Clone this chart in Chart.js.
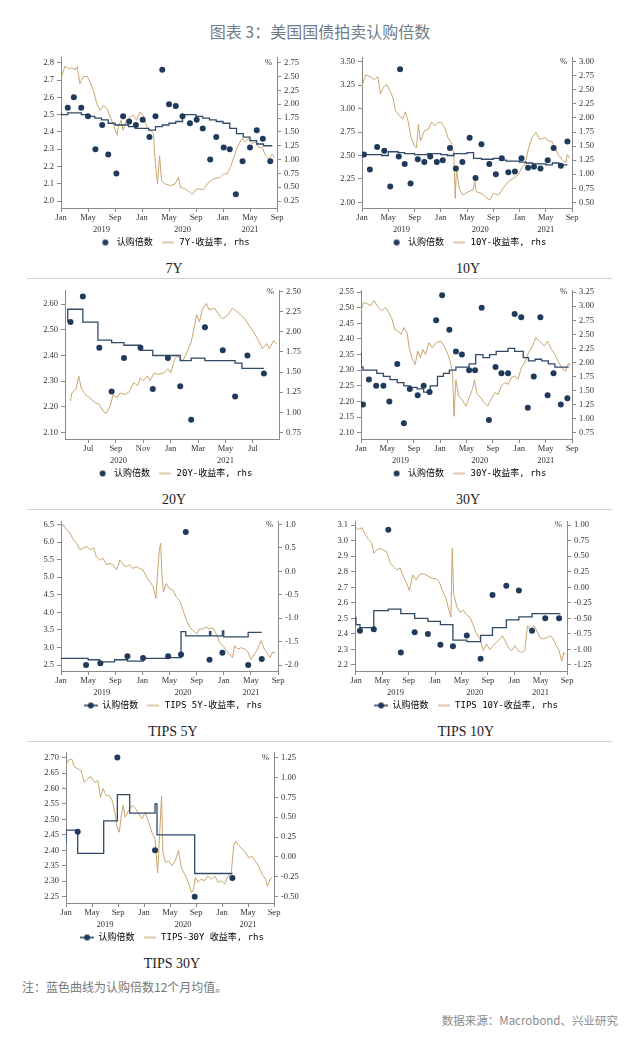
<!DOCTYPE html>
<html lang="zh">
<head>
<meta charset="utf-8">
<title>美国国债拍卖认购倍数</title>
<script src="https://cdn.jsdelivr.net/npm/chart.js@4.4.1/dist/chart.umd.min.js"></script>
<style>
  body { margin: 0; background: #fff; }
  #page { position: relative; width: 640px; height: 1037px; overflow: hidden; font-family: "Noto Sans CJK SC", sans-serif; }
  .hdr { position: absolute; left: 0; top: 20px; width: 640px; text-align: center; font-size: 16px; line-height: 22px; color: #6e7c88; }
  canvas.pn { position: absolute; }
  .name { position: absolute; width: 120px; text-align: center; font-family: "Liberation Serif", serif; font-size: 14px; line-height: 16px; color: #222; }
  .sep { position: absolute; height: 1px; background: #d2d2d2; }
  .note { position: absolute; left: 22px; top: 979px; font-size: 12px; line-height: 16px; color: #777; }
  .src { position: absolute; right: 22px; top: 1012px; font-size: 11.5px; line-height: 16px; color: #8a8a8a; }
</style>
</head>
<body>
<div id="page">
  <div class="hdr">图表 3：美国国债拍卖认购倍数</div>
  <div class="note">注：蓝色曲线为认购倍数12个月均值。</div>
  <div class="src">数据来源：Macrobond、兴业研究</div>
</div>
<script>
// 美国国债拍卖认购倍数 — x values are months since Jan 2019 (20Y: since Jan 2020)

const NAVY = '#1f3a5a';
const AVG_COL = '#2e4a68';
const GOLD = '#c9a56e';
const AXIS = '#8a8a8a';
const TXT = '#333';
const TICK_FONT = { family: "'Liberation Serif', 'DejaVu Serif', serif", size: 8.5 };
const LEG_FONT = "'DejaVu Sans Mono', 'Noto Sans CJK SC', monospace";

const MONTHS = ['Jan', 'Feb', 'Mar', 'Apr', 'May', 'Jun', 'Jul', 'Aug', 'Sep', 'Oct', 'Nov', 'Dec'];
const X_TICKS = [0, 4, 8, 12, 16, 20, 24, 28, 32];
const X_TICKS_20 = [6, 8, 10, 12, 14, 16, 18];
const YEARS = [[6, '2019'], [18, '2020'], [28, '2021']];
const YEARS_20 = [[8.2, '2020'], [16, '2021']];

// ---- 7Y ----
const T7_L = [2.0, 2.1, 2.2, 2.3, 2.4, 2.5, 2.6, 2.7, 2.8];
const T7_R = [0.25, 0.5, 0.75, 1.0, 1.25, 1.5, 1.75, 2.0, 2.25, 2.5, 2.75];
const BID_7Y = [[1.0, 2.54], [1.9, 2.60], [3.0, 2.54], [4.0, 2.49], [5.1, 2.30], [6.1, 2.44], [7.0, 2.27], [8.2, 2.16], [9.2, 2.49], [10.1, 2.46], [11.1, 2.44], [12.1, 2.47], [13.1, 2.37], [14.0, 2.49], [15.0, 2.76], [16.0, 2.56], [17.0, 2.55], [18.0, 2.49], [19.1, 2.45], [20.1, 2.47], [21.0, 2.42], [22.1, 2.24], [23.0, 2.37], [24.1, 2.31], [25.0, 2.30], [25.9, 2.04], [26.9, 2.23], [28.0, 2.31], [29.0, 2.41], [29.9, 2.36], [31.0, 2.23]];
const AVG_7Y = [[0, 2.52], [1, 2.50], [3, 2.51], [4, 2.50], [5, 2.49], [6, 2.48], [7, 2.47], [8, 2.45], [10, 2.44], [11, 2.43], [13, 2.42], [14, 2.41], [15, 2.43], [16, 2.44], [17, 2.45], [18, 2.46], [20, 2.50], [21, 2.49], [22, 2.48], [23, 2.47], [24, 2.46], [25, 2.45], [26, 2.42], [27, 2.39], [28, 2.37], [29, 2.35], [30, 2.33], [31, 2.32], [31.3, 2.32]];
const YLD_7Y = [[0, 2.47], [0.6, 2.69], [1.1, 2.64], [1.6, 2.66], [2.1, 2.62], [2.4, 2.68], [2.8, 2.37], [3.3, 2.50], [3.9, 2.50], [4.3, 2.40], [4.8, 2.25], [5.3, 2.01], [5.8, 1.89], [6.3, 1.98], [6.8, 1.92], [7.3, 1.77], [7.8, 1.62], [8.3, 1.44], [8.5, 1.59], [8.9, 1.71], [9.2, 1.53], [9.7, 1.71], [10.2, 1.77], [10.7, 1.80], [11.2, 1.71], [11.7, 1.86], [12.2, 1.80], [12.7, 1.59], [13.2, 1.53], [13.7, 1.47], [13.9, 1.04], [14.3, 0.56], [14.6, 1.07], [14.9, 0.62], [15.4, 0.56], [16.2, 0.53], [16.9, 0.56], [17.4, 0.68], [17.7, 0.50], [18.4, 0.47], [19.1, 0.41], [19.4, 0.37], [20.1, 0.47], [21.1, 0.46], [21.9, 0.59], [22.6, 0.65], [23.6, 0.68], [24.1, 0.74], [24.6, 0.74], [25.1, 0.86], [25.6, 1.04], [26.1, 1.22], [26.8, 1.38], [27.3, 1.32], [27.8, 1.38], [28.3, 1.29], [28.8, 1.32], [29.3, 1.22], [29.8, 1.22], [30.3, 1.07], [30.8, 1.01], [31.3, 1.10], [31.6, 1.04]];

// ---- 10Y ----
const T10_L = [2.0, 2.25, 2.5, 2.75, 3.0, 3.25, 3.5];
const T10_R = [0.5, 0.75, 1.0, 1.25, 1.5, 1.75, 2.0, 2.25, 2.5, 2.75, 3.0];
const BID_10Y = [[0.3, 2.51], [1.2, 2.35], [2.3, 2.59], [3.4, 2.55], [4.3, 2.17], [5.6, 2.49], [5.8, 3.42], [6.5, 2.41], [7.4, 2.20], [8.5, 2.46], [9.5, 2.43], [10.4, 2.49], [11.4, 2.43], [12.3, 2.45], [13.4, 2.58], [14.3, 2.36], [15.3, 2.43], [16.4, 2.69], [17.3, 2.26], [18.2, 2.62], [19.4, 2.41], [20.4, 2.30], [21.3, 2.47], [22.3, 2.32], [23.3, 2.33], [24.3, 2.47], [25.3, 2.37], [26.2, 2.38], [27.2, 2.36], [28.3, 2.45], [29.2, 2.58], [30.3, 2.39], [31.3, 2.65]];
const AVG_10Y = [[0, 2.50], [3, 2.51], [4, 2.50], [5.5, 2.54], [6.5, 2.53], [8, 2.52], [10, 2.51], [12, 2.52], [13, 2.51], [14, 2.50], [16, 2.52], [17, 2.53], [18.2, 2.47], [20, 2.46], [21, 2.47], [22, 2.45], [24, 2.44], [25, 2.43], [26, 2.42], [28, 2.41], [29, 2.40], [30, 2.42], [31, 2.40], [31.3, 2.40]];
const YLD_10Y = [[0, 2.55], [0.3, 2.68], [0.6, 2.77], [1.4, 2.72], [1.9, 2.68], [2.4, 2.74], [2.8, 2.43], [3.3, 2.55], [3.7, 2.60], [4.2, 2.49], [4.7, 2.37], [5.1, 2.13], [5.7, 2.04], [6.2, 1.98], [6.6, 2.11], [7.0, 1.95], [7.5, 1.65], [8.0, 1.50], [8.3, 1.47], [8.6, 1.89], [8.9, 1.59], [9.5, 1.77], [10.1, 1.80], [10.6, 1.93], [11.1, 1.86], [11.6, 1.92], [12.1, 1.92], [12.6, 1.83], [13.1, 1.65], [13.6, 1.56], [14.0, 1.35], [14.2, 0.57], [14.4, 1.11], [14.8, 0.75], [15.4, 0.63], [16.2, 0.69], [16.9, 0.72], [17.2, 0.87], [17.4, 0.69], [18.2, 0.66], [19.0, 0.58], [19.5, 0.54], [20.0, 0.66], [20.8, 0.63], [21.5, 0.75], [22.3, 0.87], [23.1, 0.93], [23.8, 0.99], [24.3, 1.11], [24.8, 1.17], [25.4, 1.47], [25.9, 1.65], [26.5, 1.74], [27.1, 1.62], [27.9, 1.65], [28.4, 1.59], [28.9, 1.59], [29.4, 1.47], [29.9, 1.35], [30.5, 1.26], [31.0, 1.20], [31.3, 1.35], [31.6, 1.29]];

// ---- 20Y ----
const T20_L = [2.1, 2.2, 2.3, 2.4, 2.5, 2.6];
const T20_R = [0.75, 1.0, 1.25, 1.5, 1.75, 2.0, 2.25, 2.5];
const BID_20Y = [[4.7, 2.53], [5.6, 2.63], [6.8, 2.43], [7.7, 2.26], [8.6, 2.39], [9.8, 2.43], [10.7, 2.27], [11.8, 2.39], [12.7, 2.28], [13.5, 2.15], [14.5, 2.51], [15.8, 2.42], [16.7, 2.24], [17.6, 2.40], [18.8, 2.33]];
const AVG_20Y = [[4.5, 2.53], [5.6, 2.58], [6.7, 2.53], [7.7, 2.46], [8.6, 2.45], [9.8, 2.44], [10.7, 2.42], [12.7, 2.40], [13.5, 2.38], [14.5, 2.39], [16.7, 2.38], [17.2, 2.37], [18.1, 2.35], [18.8, 2.35]];
const YLD_20Y = [[4.7, 1.14], [4.8, 1.24], [5.1, 1.29], [5.3, 1.45], [5.5, 1.29], [5.8, 1.22], [6.1, 1.18], [6.5, 1.12], [6.8, 1.10], [7.1, 1.01], [7.3, 0.99], [7.6, 1.08], [7.8, 1.22], [8.1, 1.18], [8.3, 1.24], [8.7, 1.22], [9.0, 1.26], [9.3, 1.37], [9.6, 1.33], [9.8, 1.43], [10.0, 1.39], [10.3, 1.45], [10.5, 1.39], [10.8, 1.49], [11.1, 1.47], [11.5, 1.49], [11.8, 1.54], [12.0, 1.49], [12.3, 1.66], [12.5, 1.70], [12.9, 1.64], [13.2, 1.75], [13.5, 1.87], [13.7, 2.04], [13.9, 2.21], [14.1, 2.12], [14.3, 2.27], [14.6, 2.35], [14.8, 2.27], [15.2, 2.29], [15.6, 2.19], [15.8, 2.16], [16.2, 2.21], [16.5, 2.29], [16.8, 2.25], [17.1, 2.21], [17.4, 2.16], [17.8, 2.06], [18.1, 1.98], [18.4, 1.89], [18.7, 1.79], [19.0, 1.85], [19.2, 1.79], [19.5, 1.89], [19.7, 1.85]];

// ---- 30Y ----
const T30_L = [2.1, 2.15, 2.2, 2.25, 2.3, 2.35, 2.4, 2.45, 2.5, 2.55];
const T30_R = [0.75, 1.0, 1.25, 1.5, 1.75, 2.0, 2.25, 2.5, 2.75, 3.0, 3.25];
const BID_30Y = [[0.3, 2.19], [1.2, 2.27], [2.3, 2.25], [3.4, 2.25], [4.3, 2.20], [5.5, 2.32], [6.5, 2.13], [7.4, 2.24], [8.6, 2.22], [9.5, 2.25], [10.4, 2.23], [11.4, 2.46], [12.3, 2.54], [13.4, 2.43], [14.4, 2.36], [15.3, 2.35], [16.4, 2.30], [17.3, 2.30], [18.3, 2.50], [19.4, 2.14], [20.4, 2.31], [21.3, 2.29], [22.3, 2.29], [23.3, 2.48], [24.3, 2.47], [25.3, 2.18], [26.2, 2.28], [27.2, 2.47], [28.3, 2.22], [29.2, 2.29], [30.3, 2.19], [31.3, 2.21]];
const AVG_30Y = [[0, 2.36], [0.3, 2.31], [2.4, 2.30], [3.4, 2.29], [4.4, 2.28], [5.5, 2.27], [6.5, 2.26], [7.5, 2.25], [8.5, 2.245], [9.5, 2.24], [10.5, 2.23], [11.6, 2.25], [12.5, 2.28], [13.4, 2.29], [14.4, 2.30], [16.4, 2.31], [17.4, 2.32], [18.5, 2.35], [19.5, 2.34], [20.5, 2.35], [22.3, 2.36], [23.3, 2.37], [24.6, 2.36], [25.4, 2.34], [26.4, 2.33], [27.4, 2.335], [28.4, 2.33], [29.4, 2.32], [30.5, 2.31], [31.5, 2.31]];
const YLD_30Y = [[0, 2.92], [0.4, 3.07], [1.0, 3.04], [1.5, 3.01], [2.0, 3.10], [2.6, 2.98], [3.2, 2.92], [3.7, 2.98], [4.2, 2.89], [4.7, 2.77], [5.1, 2.59], [5.6, 2.56], [6.1, 2.50], [6.5, 2.62], [7.0, 2.53], [7.3, 2.26], [7.8, 2.05], [8.2, 1.96], [8.6, 2.20], [9.0, 2.08], [9.4, 2.23], [9.8, 2.14], [10.3, 2.35], [10.8, 2.26], [11.4, 2.35], [12.1, 2.38], [12.6, 2.29], [13.1, 2.17], [13.6, 1.99], [13.9, 1.78], [14.1, 1.04], [14.4, 1.69], [14.8, 1.40], [15.3, 1.34], [15.9, 1.22], [16.5, 1.40], [16.9, 1.52], [17.2, 1.69], [17.6, 1.43], [18.2, 1.37], [18.7, 1.28], [19.2, 1.22], [19.7, 1.34], [20.3, 1.46], [20.8, 1.43], [21.3, 1.58], [21.8, 1.64], [22.3, 1.61], [22.8, 1.73], [23.3, 1.76], [23.8, 1.70], [24.3, 1.90], [24.8, 1.99], [25.4, 2.17], [26.0, 2.29], [26.5, 2.44], [27.1, 2.38], [27.8, 2.29], [28.3, 2.38], [28.9, 2.23], [29.4, 2.14], [29.9, 2.02], [30.5, 1.90], [31.0, 1.84], [31.5, 1.99], [31.7, 1.93]];

// ---- TIPS 5Y ----
const TT5_L = [2.5, 3.0, 3.5, 4.0, 4.5, 5.0, 5.5, 6.0, 6.5];
const TT5_R = [-2.0, -1.5, -1.0, -0.5, 0.0, 0.5, 1.0];
const BID_T5 = [[3.7, 2.50], [5.8, 2.55], [9.8, 2.75], [12.1, 2.70], [15.8, 2.75], [17.7, 2.80], [18.4, 6.29], [21.9, 2.65], [23.8, 2.85], [27.6, 2.50], [29.6, 2.67]];
const AVG_T5 = [[0, 2.71], [4.0, 2.69], [5.7, 2.65], [7.9, 2.59], [9.8, 2.65], [12.1, 2.61], [15.8, 2.69], [17.7, 2.71], [18.4, 3.45], [21.9, 3.33], [22.1, 3.45], [23.8, 3.33], [24.0, 3.47], [27.6, 3.30], [27.9, 3.43], [29.6, 3.43]];
const YLD_T5 = [[0, 0.93], [0.3, 1.0], [0.8, 0.89], [1.3, 0.82], [1.8, 0.68], [2.3, 0.60], [2.8, 0.46], [3.3, 0.50], [3.8, 0.53], [4.3, 0.46], [4.8, 0.50], [5.2, 0.32], [5.7, 0.24], [6.2, 0.28], [6.7, 0.14], [7.2, 0.17], [7.7, 0.14], [8.2, 0.03], [8.7, 0.24], [9.2, 0.14], [9.7, 0.10], [10.1, 0.14], [10.6, 0.06], [11.1, 0.10], [11.6, 0.06], [12.1, 0.03], [12.6, -0.12], [13.1, -0.22], [13.6, -0.33], [14.0, -0.58], [14.2, -0.12], [14.5, 0.46], [14.7, 0.60], [14.9, -0.12], [15.1, -0.44], [15.5, -0.26], [16.0, -0.37], [16.5, -0.40], [17.0, -0.55], [17.5, -0.62], [18.0, -0.83], [18.5, -1.05], [19.0, -1.19], [19.5, -1.27], [20.0, -1.34], [20.4, -1.23], [20.9, -1.23], [21.4, -1.19], [21.9, -1.23], [22.4, -1.21], [22.9, -1.34], [23.4, -1.52], [23.9, -1.59], [24.4, -1.70], [24.9, -1.77], [25.3, -1.84], [25.6, -1.59], [26.1, -1.66], [26.6, -1.63], [27.1, -1.66], [27.5, -1.70], [28.0, -1.88], [28.5, -1.77], [29.0, -1.66], [29.5, -1.48], [30.0, -1.66], [30.5, -1.77], [30.8, -1.84], [31.2, -1.73], [31.6, -1.73]];

// ---- TIPS 10Y ----
const TT10_L = [2.2, 2.3, 2.4, 2.5, 2.6, 2.7, 2.8, 2.9, 3.0, 3.1];
const TT10_R = [-1.25, -1.0, -0.75, -0.5, -0.25, 0.0, 0.25, 0.5, 0.75, 1.0];
const BID_T10 = [[0.6, 2.42], [2.7, 2.43], [4.9, 3.07], [6.8, 2.28], [8.9, 2.41], [10.9, 2.40], [12.8, 2.33], [14.7, 2.32], [16.8, 2.39], [18.9, 2.24], [20.7, 2.65], [22.8, 2.71], [24.7, 2.68], [26.7, 2.42], [28.7, 2.50], [30.8, 2.50]];
const AVG_T10 = [[0, 2.51], [0.6, 2.46], [2.7, 2.44], [4.9, 2.55], [6.8, 2.56], [8.9, 2.53], [10.9, 2.50], [12.8, 2.48], [14.7, 2.46], [16.8, 2.36], [18.9, 2.35], [20.7, 2.39], [22.8, 2.44], [24.7, 2.49], [26.7, 2.51], [28.7, 2.53], [31.0, 2.53]];
const YLD_T10 = [[0, 0.96], [0.4, 0.93], [0.9, 0.96], [1.4, 0.85], [1.9, 0.77], [2.4, 0.71], [2.7, 0.55], [3.1, 0.60], [3.6, 0.63], [4.1, 0.60], [4.6, 0.58], [5.2, 0.39], [5.7, 0.33], [6.2, 0.28], [6.7, 0.31], [7.2, 0.17], [7.7, 0.06], [8.1, -0.05], [8.6, 0.20], [9.1, 0.12], [9.6, 0.20], [10.1, 0.22], [10.6, 0.20], [11.1, 0.17], [11.6, 0.14], [12.1, 0.14], [12.6, 0.09], [13.1, -0.05], [13.6, -0.16], [14.1, -0.37], [14.4, -0.48], [14.6, 0.63], [14.8, -0.10], [15.3, -0.32], [15.8, -0.40], [16.3, -0.37], [16.8, -0.45], [17.3, -0.48], [17.8, -0.62], [18.3, -0.75], [18.8, -0.83], [19.3, -1.02], [19.8, -0.91], [20.3, -1.00], [20.8, -0.94], [21.3, -0.89], [21.8, -0.83], [22.2, -0.78], [22.6, -0.86], [23.1, -0.97], [23.6, -1.02], [24.1, -0.94], [24.6, -1.02], [25.1, -1.05], [25.6, -1.02], [26.0, -0.62], [26.5, -0.67], [27.0, -0.62], [27.5, -0.72], [27.9, -0.81], [28.4, -0.83], [28.9, -0.81], [29.5, -0.78], [29.9, -0.83], [30.4, -0.94], [30.8, -1.02], [31.2, -1.19], [31.5, -1.05], [31.8, -1.08]];

// ---- TIPS 30Y ----
const TT30_L = [2.25, 2.3, 2.35, 2.4, 2.45, 2.5, 2.55, 2.6, 2.65, 2.7];
const TT30_R = [-0.5, -0.25, 0.0, 0.25, 0.5, 0.75, 1.0, 1.25];
const BID_T30 = [[1.8, 2.46], [7.9, 2.70], [13.7, 2.40], [19.8, 2.25], [25.6, 2.31]];
const AVG_T30 = [[0, 2.42], [1.8, 2.465], [5.8, 2.39], [7.9, 2.495], [9.8, 2.58], [13.7, 2.52], [14.0, 2.55], [19.8, 2.45], [20.3, 2.325], [25.6, 2.325]];
const YLD_T30 = [[0, 1.15], [0.4, 1.22], [0.9, 1.23], [1.3, 1.13], [1.8, 1.11], [2.3, 1.09], [2.8, 0.94], [3.3, 0.98], [3.8, 1.01], [4.4, 0.94], [4.9, 0.96], [5.3, 0.75], [5.7, 0.86], [6.2, 0.77], [6.7, 0.77], [7.2, 0.69], [7.6, 0.52], [7.8, 0.39], [8.2, 0.31], [8.5, 0.52], [8.8, 0.65], [9.1, 0.50], [9.6, 0.58], [10.2, 0.65], [10.7, 0.61], [11.2, 0.54], [11.7, 0.48], [12.2, 0.56], [12.7, 0.44], [13.2, 0.31], [13.7, 0.23], [14.1, -0.20], [14.4, 0.27], [14.7, 0.77], [14.9, 0.06], [15.3, -0.07], [15.8, -0.05], [16.3, -0.11], [16.8, -0.05], [17.3, 0.08], [17.8, -0.15], [18.4, -0.24], [18.9, -0.34], [19.3, -0.45], [19.6, -0.41], [19.9, -0.26], [20.3, -0.32], [20.8, -0.28], [21.3, -0.30], [21.8, -0.24], [22.4, -0.28], [22.9, -0.24], [23.4, -0.32], [23.9, -0.30], [24.4, -0.34], [24.9, -0.24], [25.4, -0.22], [25.8, 0.14], [26.1, 0.20], [26.6, 0.14], [27.1, 0.10], [27.6, 0.06], [28.1, -0.01], [28.6, 0.01], [29.1, -0.05], [29.6, -0.11], [30.2, -0.22], [30.7, -0.28], [31.0, -0.37], [31.4, -0.28], [31.7, -0.26]];

// panel layout: row tops/bottoms of the plot area, x positions inside a 320px column
const ROW_TOP = [57, 290, 521, 752];
const ROW_BOT = [207, 438, 670, 902];
const X_H = 22;
const LEG_H = 28;

const PANELS = [
  { name: '7Y', col: 0, row: 0, L: 61, R: 277, cx: 174, x: [0, 32], xt: X_TICKS, years: YEARS, y: [1.96, 2.833], lt: T7_L, rt: T7_R, map: [2.0, 0.25, 2.8, 2.75], dl: 1, dr: 2, bid: BID_7Y, avg: AVG_7Y, yld: YLD_7Y, lab: '7Y-收益率, rhs' },
  { name: '10Y', col: 1, row: 0, L: 42, R: 252, cx: 148, x: [0, 32], xt: X_TICKS, years: YEARS, y: [1.94, 3.55], lt: T10_L, rt: T10_R, map: [2.0, 0.5, 3.5, 3.0], dl: 2, dr: 2, bid: BID_10Y, avg: AVG_10Y, yld: YLD_10Y, lab: '10Y-收益率, rhs' },
  { name: '20Y', col: 0, row: 1, L: 65, R: 279, cx: 174, x: [4.3, 19.9], xt: X_TICKS_20, years: YEARS_20, y: [2.075, 2.655], lt: T20_L, rt: T20_R, map: [2.1, 0.75, 2.65, 2.5], dl: 2, dr: 2, bid: BID_20Y, avg: AVG_20Y, yld: YLD_20Y, lab: '20Y-收益率, rhs' },
  { name: '30Y', col: 1, row: 1, L: 41, R: 252, cx: 148, x: [0, 32], xt: X_TICKS, years: YEARS, y: [2.0795, 2.557], lt: T30_L, rt: T30_R, map: [2.1, 0.75, 2.55, 3.25], dl: 2, dr: 2, bid: BID_30Y, avg: AVG_30Y, yld: YLD_30Y, lab: '30Y-收益率, rhs' },
  { name: 'TIPS 5Y', col: 0, row: 2, L: 61, R: 278, cx: 173, x: [0, 32], xt: X_TICKS, years: YEARS, y: [2.33, 6.6], lt: TT5_L, rt: TT5_R, map: [2.5, -2.0, 6.5, 1.0], dl: 1, dr: 1, bid: BID_T5, avg: AVG_T5, yld: YLD_T5, lab: 'TIPS 5Y-收益率, rhs', tips: true },
  { name: 'TIPS 10Y', col: 1, row: 2, L: 35, R: 247, cx: 146, x: [-0.15, 32], xt: X_TICKS, years: YEARS, y: [2.161, 3.127], lt: TT10_L, rt: TT10_R, map: [2.2, -1.25, 3.1, 1.0], dl: 1, dr: 2, bid: BID_T10, avg: AVG_T10, yld: YLD_T10, lab: 'TIPS 10Y-收益率, rhs', tips: true },
  { name: 'TIPS 30Y', col: 0, row: 3, L: 66, R: 274, cx: 172, x: [0, 32], xt: X_TICKS, years: YEARS, y: [2.2295, 2.718], lt: TT30_L, rt: TT30_R, map: [2.25, -0.5, 2.7, 1.25], dl: 2, dr: 2, bid: BID_T30, avg: AVG_T30, yld: YLD_T30, lab: 'TIPS-30Y 收益率, rhs', tips: true },
];

function mkIcon(w, h, draw) {
  const c = document.createElement('canvas');
  c.width = w; c.height = h;
  draw(c.getContext('2d'));
  return c;
}
const dotIcon = mkIcon(8, 8, g => { g.fillStyle = NAVY; g.beginPath(); g.arc(4, 4, 3, 0, Math.PI * 2); g.fill(); });
const dotLineIcon = mkIcon(14, 8, g => {
  g.strokeStyle = NAVY; g.lineWidth = 1.5; g.beginPath(); g.moveTo(0, 4); g.lineTo(14, 4); g.stroke();
  g.fillStyle = NAVY; g.beginPath(); g.arc(7, 4, 3, 0, Math.PI * 2); g.fill();
});
const lineIcon = mkIcon(12, 4, g => { g.strokeStyle = GOLD; g.lineWidth = 1.2; g.beginPath(); g.moveTo(0, 2); g.lineTo(12, 2); g.stroke(); });

// year labels under the month ticks and the "%" mark of the right axis
const extras = {
  id: 'extras',
  afterDraw(chart, args, opts) {
    const { ctx, chartArea, scales } = chart;
    ctx.save();
    ctx.font = `${TICK_FONT.size}px ${TICK_FONT.family}`;
    ctx.fillStyle = TXT;
    ctx.textAlign = 'center';
    ctx.textBaseline = 'middle';
    opts.years.forEach(([m, t]) => ctx.fillText(t, scales.x.getPixelForValue(m), chartArea.bottom + 22));
    ctx.textAlign = 'right';
    ctx.fillText('%', chartArea.right - 5, scales.y1.getPixelForValue(opts.pct));
    ctx.restore();
  },
};

const page = document.getElementById('page');
const pts = arr => arr.map(([x, y]) => ({ x, y }));

PANELS.forEach(p => {
  const colX = p.col * 320;
  const top = ROW_TOP[p.row], bot = ROW_BOT[p.row];
  const H = (bot - top) + 10 + X_H + LEG_H;
  const wR = 38;
  const padR = 320 - p.R - wR;
  const padL = 2 * p.cx - 320 + padR;
  const wL = p.L - padL;
  const [l0, r0, l1, r1] = p.map;
  const toR = v => r0 + (v - l0) * (r1 - r0) / (l1 - l0);

  const cv = document.createElement('canvas');
  cv.className = 'pn';
  cv.width = 320; cv.height = H;
  cv.style.left = colX + 'px';
  cv.style.top = (top - 10) + 'px';
  page.appendChild(cv);

  const nm = document.createElement('div');
  nm.className = 'name';
  nm.textContent = p.name;
  nm.style.left = (colX + p.cx - 60) + 'px';
  nm.style.top = (bot + 62 - 8) + 'px';
  page.appendChild(nm);

  if (p.row < 3) {
    const sp = document.createElement('div');
    sp.className = 'sep';
    sp.style.left = (p.col ? 320 : 27) + 'px';
    sp.style.width = (p.col ? 292 : 293) + 'px';
    sp.style.top = (bot + 71) + 'px';
    page.appendChild(sp);
  }

  const axisGrid = { drawOnChartArea: false, drawTicks: true, tickLength: 4, color: AXIS };
  new Chart(cv, {
    type: 'scatter',
    data: {
      datasets: [
        { label: '认购倍数', data: pts(p.bid), yAxisID: 'y', pointRadius: 3, pointBackgroundColor: NAVY, pointBorderWidth: 0, order: 0 },
        { type: 'line', label: '12个月均值', data: pts(p.avg), yAxisID: 'y', stepped: 'after', borderColor: AVG_COL, borderWidth: 1.3, pointRadius: 0, order: 1 },
        { type: 'line', label: p.lab, data: pts(p.yld), yAxisID: 'y1', borderColor: GOLD, borderWidth: 1, pointRadius: 0, tension: 0, order: 2 },
      ],
    },
    options: {
      responsive: false,
      animation: false,
      events: [],
      layout: { padding: { top: 10, left: padL, right: padR, bottom: 0 } },
      plugins: {
        tooltip: { enabled: false },
        extras: { years: p.years, pct: p.rt[p.rt.length - 1] },
        legend: {
          position: 'bottom',
          labels: {
            usePointStyle: true, pointStyleWidth: 14, boxHeight: 9, padding: 8,
            color: TXT, font: { family: LEG_FONT, size: 9 },
            generateLabels: () => [
              { text: '认购倍数', pointStyle: p.tips ? dotLineIcon : dotIcon, fillStyle: NAVY, strokeStyle: NAVY, lineWidth: 0, hidden: false, datasetIndex: 0 },
              { text: p.lab, pointStyle: lineIcon, fillStyle: GOLD, strokeStyle: GOLD, lineWidth: 0, hidden: false, datasetIndex: 2 },
            ],
          },
        },
      },
      scales: {
        x: {
          type: 'linear', min: p.x[0], max: p.x[1],
          afterBuildTicks: s => { s.ticks = p.xt.map(v => ({ value: v })); },
          afterFit: s => { s.height = X_H; },
          ticks: { autoSkip: false, maxRotation: 0, padding: 1, color: TXT, font: TICK_FONT, callback: v => MONTHS[((v % 12) + 12) % 12] },
          grid: axisGrid, border: { color: AXIS },
        },
        y: {
          position: 'left', min: p.y[0], max: p.y[1],
          afterBuildTicks: s => { s.ticks = p.lt.map(v => ({ value: v })); },
          afterFit: s => { s.width = wL; },
          ticks: { padding: 3, color: TXT, font: TICK_FONT, callback: v => v.toFixed(p.dl) },
          grid: axisGrid, border: { color: AXIS },
        },
        y1: {
          position: 'right', min: toR(p.y[0]), max: toR(p.y[1]),
          afterBuildTicks: s => { s.ticks = p.rt.map(v => ({ value: v })); },
          afterFit: s => { s.width = wR; },
          ticks: { padding: 3, color: TXT, font: TICK_FONT, callback: v => v.toFixed(p.dr) },
          grid: axisGrid, border: { color: AXIS },
        },
      },
    },
    plugins: [extras],
  });
});
</script>
</body>
</html>
